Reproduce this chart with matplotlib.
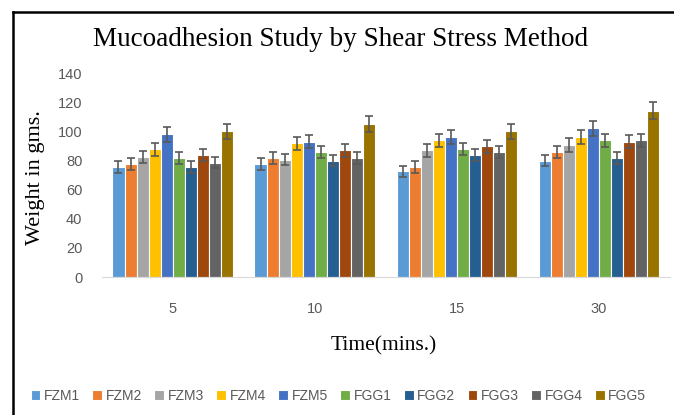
import numpy as np
import matplotlib
matplotlib.use("Agg")
import matplotlib.pyplot as plt
from matplotlib.lines import Line2D

times = ["5", "10", "15", "30"]
series = ["FZM1", "FZM2", "FZM3", "FZM4", "FZM5", "FGG1", "FGG2", "FGG3", "FGG4", "FGG5"]

# weight in gms, one row per formulation, columns = time points
fzm1 = [75.5, 77.6, 72.5, 79.9]
fzm2 = [77.6, 81.5, 75.5, 85.8]
fzm3 = [82.6, 80.6, 86.9, 90.6]
fzm4 = [87.6, 91.7, 93.8, 95.9]
fzm5 = [97.9, 92.9, 95.9, 102.0]
fgg1 = [81.5, 85.8, 87.9, 93.8]
fgg2 = [75.5, 79.9, 83.7, 81.7]
fgg3 = [83.7, 86.9, 89.7, 92.9]
fgg4 = [78.5, 81.5, 85.8, 93.8]
fgg5 = [100.0, 105.0, 100.0, 114.1]

# error bar half-lengths
err_fzm1 = [3.8, 3.9, 3.6, 4.0]
err_fzm2 = [3.9, 4.1, 3.8, 4.3]
err_fzm3 = [4.1, 4.0, 4.3, 4.5]
err_fzm4 = [4.4, 4.6, 4.7, 4.8]
err_fzm5 = [4.9, 4.6, 4.8, 5.1]
err_fgg1 = [4.1, 4.3, 4.4, 4.7]
err_fgg2 = [3.8, 4.0, 4.2, 4.1]
err_fgg3 = [4.2, 4.3, 4.5, 4.6]
err_fgg4 = [3.9, 4.1, 4.3, 4.7]
err_fgg5 = [5.0, 5.3, 5.0, 5.7]

values = [fzm1, fzm2, fzm3, fzm4, fzm5, fgg1, fgg2, fgg3, fgg4, fgg5]
errors = [err_fzm1, err_fzm2, err_fzm3, err_fzm4, err_fzm5,
          err_fgg1, err_fgg2, err_fgg3, err_fgg4, err_fgg5]
colors = ["#5B9BD5", "#ED7D31", "#A5A5A5", "#FFC000", "#4472C4",
          "#70AD47", "#255E91", "#9E480E", "#636363", "#997300"]

fig = plt.figure(figsize=(6.74, 4.15), dpi=100)
ax = fig.add_axes([0.151, 0.3325, 0.843, 0.4915])

x = np.arange(len(times))
n = len(series)
width = 0.085
for i in range(n):
    pos = x + (i - (n - 1) / 2) * width
    ax.bar(pos, values[i], width, color=colors[i], edgecolor="white",
           linewidth=0.8, label=series[i], zorder=2)
    ax.errorbar(pos, values[i], yerr=errors[i], fmt="none", ecolor="#595959",
                elinewidth=1.2, capsize=3.2, capthick=1.2, zorder=3)

ax.set_xlim(-0.5, len(times) - 0.5)
ax.set_ylim(0, 140)
ax.set_yticks(range(0, 141, 20))
ax.set_xticks(x)
ax.set_xticklabels(times)
ax.tick_params(length=0, labelsize=10.5, labelcolor="#595959")
ax.tick_params(axis="x", pad=18)
ax.tick_params(axis="y", pad=14)
for lab in ax.get_xticklabels() + ax.get_yticklabels():
    lab.set_family("Liberation Sans")
for s in ["top", "right", "left"]:
    ax.spines[s].set_visible(False)
ax.spines["bottom"].set_color("#D9D9D9")

fig.text(0.505, 0.906, "Mucoadhesion Study by Shear Stress Method",
         ha="center", va="center", fontsize=19.5, family="Liberation Serif")
fig.text(0.052, 0.572, "Weight in gms.", rotation=90, ha="center", va="center",
         fontsize=16, family="Liberation Serif")
fig.text(0.57, 0.166, "Time(mins.)", ha="center", va="center",
         fontsize=15.5, family="Liberation Serif")

leg = fig.legend(loc="center", bbox_to_anchor=(0.502, 0.046), ncol=n, frameon=False,
                 handlelength=0.7, handleheight=0.7, handletextpad=0.25,
                 columnspacing=0.9, prop={"family": "Liberation Sans", "size": 10})
for t in leg.get_texts():
    t.set_color("#595959")

# border of the chart area (top and left visible in the crop)
fig.add_artist(Line2D([0.019, 0.019], [0, 0.97], transform=fig.transFigure,
                      color="black", linewidth=1.8))
fig.add_artist(Line2D([0.019, 1.0], [0.97, 0.97], transform=fig.transFigure,
                      color="black", linewidth=1.8))

fig.savefig("out.png", dpi=100)
